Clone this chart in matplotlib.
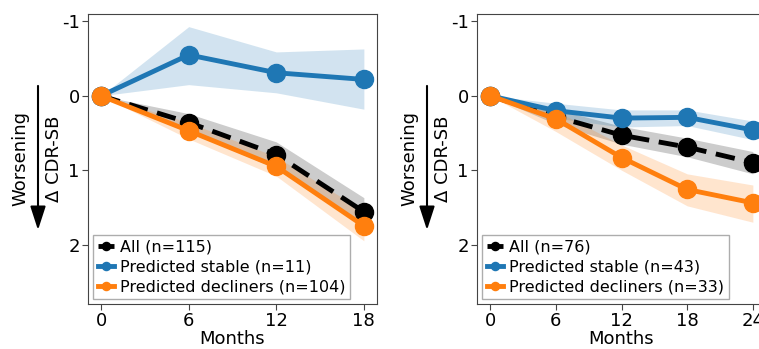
import matplotlib.pyplot as plt
import numpy as np

# panel 1 (18 months)
months_a = [0, 6, 12, 18]
all_a = [0, 0.36, 0.79, 1.56]
all_a_lo = [0, 0.24, 0.62, 1.37]
all_a_hi = [0, 0.48, 0.98, 1.76]
stable_a = [0, -0.55, -0.31, -0.22]
stable_a_lo = [0, -0.93, -0.59, -0.63]
stable_a_hi = [0, -0.15, -0.04, 0.18]
decl_a = [0, 0.47, 0.95, 1.75]
decl_a_lo = [0, 0.36, 0.82, 1.55]
decl_a_hi = [0, 0.58, 1.08, 1.95]
labels_a = ["All (n=115)", "Predicted stable (n=11)", "Predicted decliners (n=104)"]

# panel 2 (24 months)
months_b = [0, 6, 12, 18, 24]
all_b = [0, 0.28, 0.53, 0.69, 0.90]
all_b_lo = [0, 0.18, 0.41, 0.57, 0.75]
all_b_hi = [0, 0.38, 0.65, 0.82, 1.05]
stable_b = [0, 0.2, 0.30, 0.29, 0.46]
stable_b_lo = [0, 0.10, 0.19, 0.19, 0.34]
stable_b_hi = [0, 0.30, 0.42, 0.40, 0.59]
decl_b = [0, 0.31, 0.83, 1.26, 1.44]
decl_b_lo = [0, 0.20, 0.66, 1.05, 1.20]
decl_b_hi = [0, 0.48, 1.00, 1.48, 1.70]
labels_b = ["All (n=76)", "Predicted stable (n=43)", "Predicted decliners (n=33)"]

blue = "#1f77b4"
orange = "#ff7f0e"

fig = plt.figure(figsize=(7.59, 3.49), dpi=100)
ax1 = fig.add_axes([88/759, 45/349, 289/759, 290/349])
ax2 = fig.add_axes([477/759, 45/349, 289/759, 290/349])


def panel(ax, x, series, labels, ticks):
    styles = [("k", "--", "grey"), (blue, "-", blue), (orange, "-", orange)]
    for (y, lo, hi), lab, (c, ls, fc) in zip(series, labels, styles):
        ax.fill_between(x, lo, hi, color=fc, alpha=0.2 if c != "k" else 0.4, lw=0)
    for (y, lo, hi), lab, (c, ls, fc) in zip(series, labels, styles):
        ax.plot(x, y, color=c, ls=ls, lw=3.5, marker="o", ms=13, label=lab,
                dashes=(4, 2) if ls == "--" else (None, None))
    ax.set_ylim(2.8, -1.1)
    ax.set_yticks([-1, 0, 1, 2])
    ax.set_yticklabels(["-1", "0", "1", "2"])
    ax.set_xticks(ticks)
    ax.tick_params(labelsize=13, color="#444444", length=4, pad=2)
    for s in ax.spines.values():
        s.set_color("#444444")
    ax.set_xlabel("Months", fontsize=13, labelpad=0)
    ax.set_ylabel("\u0394 CDR-SB", fontsize=13)
    ax.yaxis.set_label_coords(-0.088, 0.5)
    leg = ax.legend(loc="lower left", fontsize=11.5, handlelength=1.0,
                    handletextpad=0.4, labelspacing=0.3, borderpad=0.3,
                    fancybox=False, edgecolor="#999999", markerscale=0.45,
                    borderaxespad=0.3)
    ax.annotate("", xy=(-0.173, 0.255), xytext=(-0.173, 0.752),
                xycoords="axes fraction",
                arrowprops=dict(arrowstyle="-|>,head_width=0.47,head_length=1.45",
                                color="k", lw=1.5, shrinkA=0, shrinkB=0))
    ax.text(-0.235, 0.5, "Worsening", rotation=90, transform=ax.transAxes,
            fontsize=13, ha="center", va="center")


panel(ax1, months_a,
      [(all_a, all_a_lo, all_a_hi), (stable_a, stable_a_lo, stable_a_hi),
       (decl_a, decl_a_lo, decl_a_hi)], labels_a, [0, 6, 12, 18])
panel(ax2, months_b,
      [(all_b, all_b_lo, all_b_hi), (stable_b, stable_b_lo, stable_b_hi),
       (decl_b, decl_b_lo, decl_b_hi)], labels_b, [0, 6, 12, 18, 24])

fig.savefig("out.png", dpi=100)
